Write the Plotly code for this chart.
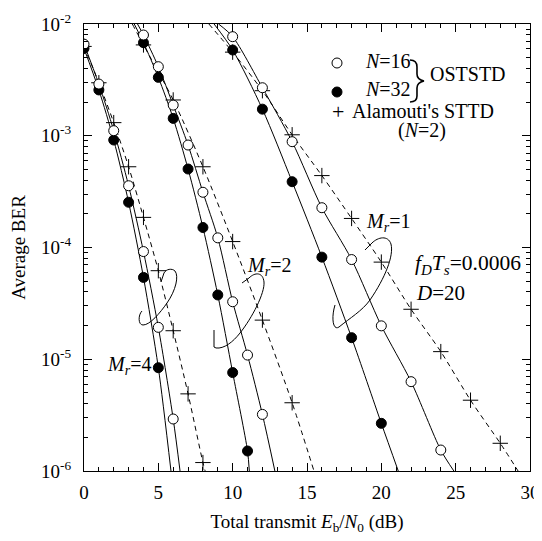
import plotly.graph_objects as go

# ---------------- data ----------------
# M_r = 4
mr4_snr_n16 = [0, 1, 2, 3, 4, 5, 6]
mr4_ber_n16 = [6.6e-3, 2.9e-3, 1.11e-3, 3.57e-4, 9.2e-5, 1.93e-5, 2.92e-6]
mr4_snr_n32 = [0, 1, 2, 3, 4, 5]
mr4_ber_n32 = [6.05e-3, 2.57e-3, 9.16e-4, 2.54e-4, 5.4e-5, 8.4e-6]
mr4_snr_sttd = [0, 1, 2, 3, 4, 5, 6, 7, 8]
mr4_ber_sttd = [6.3e-3, 2.98e-3, 1.31e-3, 5.28e-4, 1.86e-4, 6.2e-5, 1.8e-5, 4.9e-6, 1.19e-6]

# M_r = 2
mr2_snr_n16 = [4, 5, 6, 7, 8, 9, 10, 11, 12]
mr2_ber_n16 = [7.97e-3, 4.15e-3, 1.88e-3, 8.26e-4, 3.12e-4, 1.22e-4, 3.27e-5, 1.09e-5, 3.21e-6]
mr2_snr_n32 = [4, 5, 6, 7, 8, 9, 10, 11]
mr2_ber_n32 = [6.8e-3, 3.33e-3, 1.43e-3, 5.04e-4, 1.51e-4, 3.76e-5, 7.6e-6, 1.51e-6]
mr2_snr_sttd = [4, 6, 8, 10, 12, 14]
mr2_ber_sttd = [6.5e-3, 2.09e-3, 5.28e-4, 1.13e-4, 2.24e-5, 4.08e-6]

# M_r = 1
mr1_snr_n16 = [10, 12, 14, 16, 18, 20, 22, 24]
mr1_ber_n16 = [7.7e-3, 2.69e-3, 8.85e-4, 2.27e-4, 7.8e-5, 1.99e-5, 6.3e-6, 1.54e-6]
mr1_snr_n32 = [10, 12, 14, 16, 18, 20]
mr1_ber_n32 = [5.85e-3, 1.73e-3, 3.88e-4, 8.2e-5, 1.56e-5, 2.67e-6]
mr1_snr_sttd = [10, 12, 14, 16, 18, 20, 22, 24, 26, 28]
mr1_ber_sttd = [5.6e-3, 2.53e-3, 1.02e-3, 4.4e-4, 1.82e-4, 7.4e-5, 2.8e-5, 1.17e-5, 4.3e-6, 1.77e-6]

# where each curve leaves the frame (SNR at BER=1e-2 on top, at BER=1e-6 at bottom)
BER_TOP, BER_BOTTOM = 1e-2, 1e-6
mr4_curve_start = {"n16": None, "n32": None, "sttd": None}
mr4_curve_end = {"n16": 6.46, "n32": 5.85, "sttd": 8.15}
mr2_curve_start = {"n16": 3.6, "n32": 3.38, "sttd": 3.25}
mr2_curve_end = {"n16": 12.84, "n32": 11.12, "sttd": 15.47}
mr1_curve_start = {"n16": 9.05, "n32": 8.75, "sttd": 8.4}
mr1_curve_end = {"n16": 24.88, "n32": 21.14, "sttd": 29.2}

x_ticks = [0, 5, 10, 15, 20, 25, 30]
y_ticks = [1e-6, 1e-5, 1e-4, 1e-3, 1e-2]
y_ticktext = ["10<sup>-6</sup>", "10<sup>-5</sup>", "10<sup>-4</sup>", "10<sup>-3</sup>", "10<sup>-2</sup>"]

FONT = "Liberation Serif, Times New Roman, Times, serif"
# the page body adds an 8px margin; the figure is sized so the plot frame lands
# at screen x 84..530, y 24..471 inside the 542x541 window
BODY = 8
W, H = 542 - BODY, 541 - BODY
X0, X1, Y0, Y1 = 84, 530, 24, 471
ML, MT = X0 - BODY, Y0 - BODY
MR, MB = W - (X1 - BODY), H - (Y1 - BODY)


def px(xp):
    return (xp - X0) / (X1 - X0)


def py(yp):
    return (Y1 - yp) / (Y1 - Y0)


fig = go.Figure()

groups = [
    (mr4_snr_n16, mr4_ber_n16, mr4_snr_n32, mr4_ber_n32, mr4_snr_sttd, mr4_ber_sttd, mr4_curve_start, mr4_curve_end),
    (mr2_snr_n16, mr2_ber_n16, mr2_snr_n32, mr2_ber_n32, mr2_snr_sttd, mr2_ber_sttd, mr2_curve_start, mr2_curve_end),
    (mr1_snr_n16, mr1_ber_n16, mr1_snr_n32, mr1_ber_n32, mr1_snr_sttd, mr1_ber_sttd, mr1_curve_start, mr1_curve_end),
]


def curve(xs, ys, start, end):
    cx, cy = list(xs), list(ys)
    if start is not None:
        cx = [start] + cx
        cy = [BER_TOP] + cy
    if end is not None:
        cx = cx + [end]
        cy = cy + [BER_BOTTOM]
    return cx, cy


# lines first
for (x16, y16, x32, y32, xs, ys, cs, ce) in groups:
    for key, xx, yy, dash in (("sttd", xs, ys, "5px,4px"), ("n32", x32, y32, "solid"), ("n16", x16, y16, "solid")):
        cx, cy = curve(xx, yy, cs[key], ce[key])
        fig.add_trace(go.Scatter(x=cx, y=cy, mode="lines",
                                 line=dict(color="black", width=1, dash=dash, shape="spline", smoothing=0.8),
                                 hoverinfo="skip", showlegend=False))

# markers
for (x16, y16, x32, y32, xs, ys, cs, ce) in groups:
    fig.add_trace(go.Scatter(x=xs, y=ys, mode="markers", name="Alamouti's STTD (N=2)",
                             marker=dict(symbol="cross-thin", size=11, line=dict(color="black", width=1)),
                             showlegend=False))
    fig.add_trace(go.Scatter(x=x32, y=y32, mode="markers", name="N=32",
                             marker=dict(symbol="circle", size=10, color="black", line=dict(color="black", width=1)),
                             showlegend=False))
    fig.add_trace(go.Scatter(x=x16, y=y16, mode="markers", name="N=16",
                             marker=dict(symbol="circle", size=10, color="white", line=dict(color="black", width=1)),
                             showlegend=False))

axis_common = dict(showline=True, linecolor="black", linewidth=1, mirror="ticks", ticks="inside",
                   ticklen=8, tickwidth=1, tickcolor="black", showgrid=False, zeroline=False,
                   automargin=False,
                   tickfont=dict(family=FONT, size=19, color="black"))

fig.update_xaxes(range=[0, 30], tickmode="array", tickvals=x_ticks, ticktext=[str(v) for v in x_ticks],
                 minor=dict(dtick=1, ticks="inside", ticklen=4, tickwidth=1, tickcolor="black", showgrid=False),
                 ticklabelstandoff=4,
                 title=dict(text="Total transmit <i>E</i><sub>b</sub>/<i>N</i><sub>0</sub> (dB)",
                            font=dict(family=FONT, size=19, color="black"), standoff=12),
                 **axis_common)
fig.update_yaxes(type="log", range=[-6, -2], tickmode="array", tickvals=y_ticks, ticktext=y_ticktext,
                 minor=dict(dtick="D1", ticks="inside", ticklen=4, tickwidth=1, tickcolor="black", showgrid=False),
                 ticklabelstandoff=8,
                 title=dict(text="Average BER", font=dict(family=FONT, size=19, color="black"), standoff=15),
                 **axis_common)

annotations = []


def text(xp, yp, t, xanchor="left", size=20):
    annotations.append(dict(x=px(xp), y=py(yp), xref="paper", yref="paper", text=t, showarrow=False,
                            xanchor=xanchor, yanchor="middle", font=dict(family=FONT, size=size, color="black")))


# legend texts
text(363, 61, "<i>N</i>=16")
text(363, 89, "<i>N</i>=32")
text(428, 74, "OSTSTD")
text(338, 111, "+", xanchor="center", size=22)
text(350, 111, "Alamouti's STTD")
text(396, 130, "(<i>N</i>=2)")
# curve labels
text(364, 222, "<i>M</i><sub><i>r</i></sub>=1")
text(245, 266, "<i>M</i><sub><i>r</i></sub>=2")
text(105, 365, "<i>M</i><sub><i>r</i></sub>=4")
text(413, 264, "<i>f</i><sub><i>D</i></sub><i>T</i><sub><i>s</i></sub>=0.0006", size=21.5)
text(414, 293, "<i>D</i>=20", size=21)
fig.update_layout(annotations=annotations)

shapes = []
# legend circles
for (cx, cy, fill) in ((337, 63, "white"), (337, 92, "black")):
    shapes.append(dict(type="circle", xref="paper", yref="paper", xsizemode="pixel", ysizemode="pixel",
                       xanchor=px(cx), yanchor=py(cy), x0=-5, x1=5, y0=-5, y1=5,
                       line=dict(color="black", width=1), fillcolor=fill))


def path(pts):
    out = []
    for cmd, coords in pts:
        s = " ".join(f"{px(a):.4f},{py(b):.4f}" for a, b in coords)
        out.append(f"{cmd} {s}")
    return " ".join(out)


# curly brace grouping the two OSTSTD entries
brace = [("M", [(410, 60)]), ("C", [(415, 60), (417, 62), (417, 67)]), ("L", [(417, 74)]),
         ("C", [(417, 78), (419, 80), (424, 81)]), ("C", [(419, 82), (417, 84), (417, 88)]),
         ("L", [(417, 96)]), ("C", [(417, 100), (415, 102), (410, 102)])]
shapes.append(dict(type="path", xref="paper", yref="paper", path=path(brace),
                   line=dict(color="black", width=1.6)))

loops = [
    [("M", [(365, 250)]), ("L", [(372, 243)]), ("C", [(378, 237), (388, 235), (391, 244)]),
     ("C", [(394, 256), (385, 278), (370, 300)]), ("C", [(362, 311), (350, 318), (339, 327)]),
     ("C", [(333, 331), (331, 318), (335, 305)])],
    [("M", [(242, 283)]), ("L", [(249, 278)]), ("C", [(255, 272), (263, 272), (264, 282)]),
     ("C", [(265, 293), (252, 318), (240, 333)]), ("C", [(233, 342), (224, 349), (216, 348)]),
     ("L", [(214, 347)]), ("L", [(214, 330)])],
    [("M", [(161, 282)]), ("L", [(164, 273)]), ("C", [(166, 269), (172, 268), (175, 271)]),
     ("C", [(179, 276), (176, 290), (167, 303)]), ("C", [(160, 313), (150, 325), (143, 325)]),
     ("C", [(138, 325), (138, 315), (142, 311)])],
]
for lp in loops:
    shapes.append(dict(type="path", xref="paper", yref="paper", path=path(lp),
                       line=dict(color="black", width=1)))

fig.update_layout(shapes=shapes, width=W, height=H,
                  margin=dict(l=ML, r=MR, t=MT, b=MB, pad=0, autoexpand=False),
                  plot_bgcolor="white", paper_bgcolor="white", showlegend=False,
                  font=dict(family=FONT, size=19, color="black"))

fig.write_html("out.html")
